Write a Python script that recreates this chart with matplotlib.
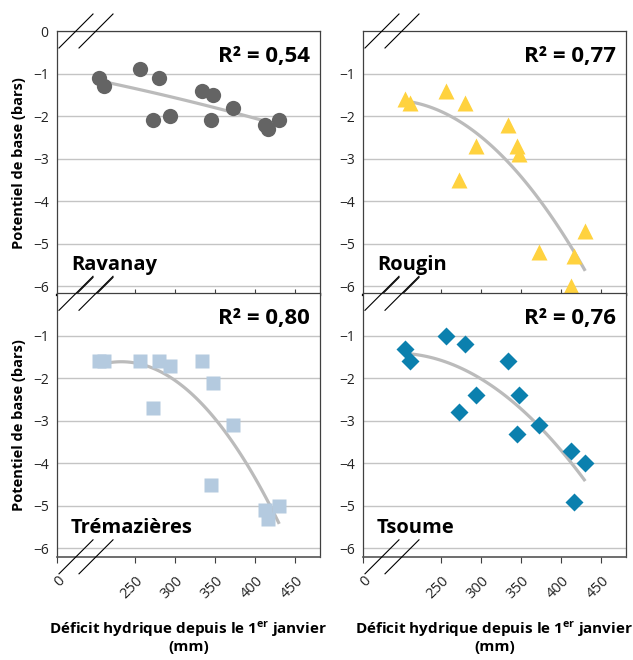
import numpy as np
import matplotlib.pyplot as plt
from matplotlib.transforms import ScaledTranslation

plt.rcParams['font.family'] = ['Open Sans', 'DejaVu Sans']
plt.rcParams['mathtext.fontset'] = 'custom'
plt.rcParams['mathtext.rm'] = 'Open Sans'
plt.rcParams['mathtext.bf'] = 'Open Sans:bold'

# deficit hydrique (mm), same sampling dates for every site
deficit = [204, 211, 256, 272, 279, 293, 333, 345, 347, 372, 412, 416, 430]

ravanay = [-1.1, -1.3, -0.9, -2.1, -1.1, -2.0, -1.4, -2.1, -1.5, -1.8, -2.2, -2.3, -2.1]
rougin = [-1.6, -1.7, -1.4, -3.5, -1.7, -2.7, -2.2, -2.7, -2.9, -5.2, -6.0, -5.3, -4.7]
tremazieres = [-1.6, -1.6, -1.6, -2.7, -1.6, -1.7, -1.6, -4.5, -2.1, -3.1, -5.1, -5.3, -5.0]
tsoume = [-1.3, -1.6, -1.0, -2.8, -1.2, -2.4, -1.6, -3.3, -2.4, -3.1, -3.7, -4.9, -4.0]

sites = ['Ravanay', 'Rougin', 'Trémazières', 'Tsoume']
values = [ravanay, rougin, tremazieres, tsoume]
r2 = ['0,54', '0,77', '0,80', '0,76']
markers = ['o', '^', 's', 'D']
msizes = [11, 11, 10, 9.2]
colors = ['#646464', '#FFD23F', '#B4CADF', '#0B80AE']

xticks = [250, 300, 350, 400, 450]
xmin, xmax = 152, 481
ymin, ymax = -6.2, 0

fig = plt.figure(figsize=(6.33, 6.6), dpi=100)
W, H = 633., 660.
boxes = [(57, 31), (363, 31), (57, 293.3), (363, 293.3)]
aw, ah = 263., 263.5

for k in range(4):
    x0, y0 = boxes[k]
    ax = fig.add_axes([x0/W, 1-(y0+ah)/H, aw/W, ah/H])
    x = np.array(deficit)
    y = np.array(values[k])
    c = np.polyfit(x, y, 2)
    xf = np.linspace(x.min(), x.max(), 100)
    ax.plot(xf, np.polyval(c, xf), color='#BBBBBB', lw=2.3, zorder=2, solid_capstyle='butt')
    ax.plot(x, y, linestyle='none', marker=markers[k], ms=msizes[k],
            color=colors[k], mec='none', zorder=3)
    ax.set_xlim(xmin, xmax)
    ax.set_ylim(ymin, ymax)
    ax.set_yticks([-1, -2, -3, -4, -5, -6])
    ax.yaxis.grid(True, color='#C4C4C4', lw=1)
    ax.set_axisbelow(True)
    if k == 0:
        ax.set_yticks([0, -1, -2, -3, -4, -5, -6])
    ax.tick_params(axis='y', length=0, pad=6, labelsize=10, colors='#222222')
    for s in ['left', 'right', 'top']:
        ax.spines[s].set_color('#404040')
        ax.spines[s].set_linewidth(0.9)
    if k < 2:
        ax.set_xticks(xticks)
        ax.set_xticklabels([])
        ax.tick_params(axis='x', direction='in', length=4, color='#404040')
        ax.spines['bottom'].set_color('black')
        ax.spines['bottom'].set_linewidth(1.6)
    else:
        ax.set_xticks([xmin] + xticks)
        ax.set_xticklabels(['0'] + [str(t) for t in xticks], rotation=45,
                           ha='right', va='center', rotation_mode='anchor')
        ax.tick_params(axis='x', direction='out', length=4, pad=11.5, labelsize=10.5,
                       color='#404040', labelcolor='#222222')
        shift = ScaledTranslation(0.055, 0, fig.dpi_scale_trans)
        for lab in ax.get_xticklabels():
            lab.set_transform(lab.get_transform() + shift)
        ax.spines['bottom'].set_color('#555555')
        ax.spines['bottom'].set_linewidth(1.2)
        ax.set_xlabel('Déficit hydrique depuis le 1$^{\\mathbf{er}}$ janvier\n(mm)',
                      fontsize=11, fontweight='bold', labelpad=13, linespacing=1.05)
    if k % 2 == 0:
        ax.set_ylabel('Potentiel de base (bars)', fontsize=10.5, fontweight='bold', labelpad=5)
    ax.text(0.962, 0.882, 'R² = ' + r2[k], transform=ax.transAxes,
            ha='right', va='baseline', fontsize=16, fontweight='bold')
    ax.text(0.053, 0.092, sites[k], transform=ax.transAxes,
            ha='left', va='baseline', fontsize=14.5, fontweight='bold')
    # axis break marks
    dx, dy = 17/aw, 17/ah
    for yb in [0, 1]:
        for xc in [19/aw, 39/aw]:
            ax.plot([xc-dx, xc+dx], [yb-dy, yb+dy], transform=ax.transAxes,
                    color='black', lw=0.8, clip_on=False, zorder=5)

fig.savefig('out.png', dpi=100)
